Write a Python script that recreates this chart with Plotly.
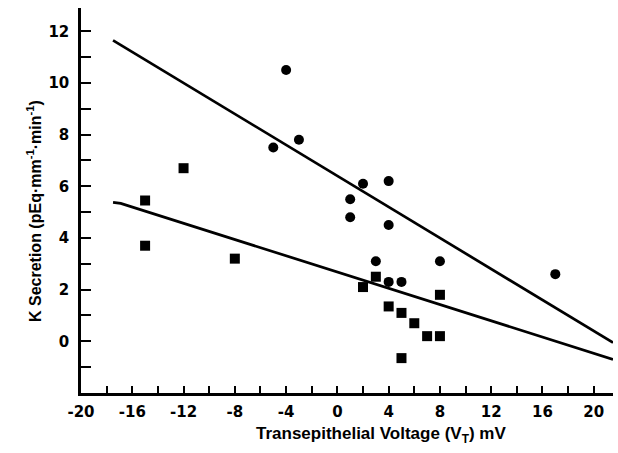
import plotly.graph_objects as go

# Data
circles_x = [-4, -3, -5, 2, 4, 1, 1, 4, 3, 8, 4, 5, 17]
circles_y = [10.5, 7.8, 7.5, 6.1, 6.2, 5.5, 4.8, 4.5, 3.1, 3.1, 2.3, 2.3, 2.6]
squares_x = [-15, -15, -12, -8, 2, 3, 4, 5, 5, 6, 7, 8, 8]
squares_y = [5.45, 3.7, 6.7, 3.2, 2.1, 2.5, 1.35, 1.1, -0.65, 0.7, 0.2, 0.2, 1.8]
upper_x = [-17.5, 21.5]
upper_y = [11.65, -0.05]
lower_x = [-17.5, -16.9, 21.5]
lower_y = [5.38, 5.34, -0.70]
x_ticks = [-20, -16, -12, -8, -4, 0, 4, 8, 12, 16, 20]
y_ticks = [0, 2, 4, 6, 8, 10, 12]

fig = go.Figure()
fig.add_trace(go.Scatter(x=upper_x, y=upper_y, mode="lines",
                         line=dict(color="black", width=2.7), showlegend=False))
fig.add_trace(go.Scatter(x=lower_x, y=lower_y, mode="lines",
                         line=dict(color="black", width=2.7), showlegend=False))
fig.add_trace(go.Scatter(x=circles_x, y=circles_y, mode="markers",
                         marker=dict(symbol="circle", size=10, color="black"),
                         showlegend=False))
fig.add_trace(go.Scatter(x=squares_x, y=squares_y, mode="markers",
                         marker=dict(symbol="square", size=10, color="black"),
                         showlegend=False))

tickfont = dict(family="DejaVu Sans", size=15, color="black", weight="bold")

fig.update_xaxes(range=[-20, 21.5], showline=True, linewidth=2.5, linecolor="black",
                 showgrid=False, zeroline=False, ticks="inside", ticklen=7, tickwidth=2,
                 tickcolor="black", tickvals=x_ticks, ticktext=[str(v) for v in x_ticks],
                 minor=dict(ticks="inside", ticklen=7, tickwidth=2, tickcolor="black",
                            dtick=2, tick0=0, showgrid=False),
                 tickfont=tickfont, ticklabelstandoff=3)
fig.update_yaxes(range=[-2, 12.9], showline=True, linewidth=2.5, linecolor="black",
                 showgrid=False, zeroline=False, ticks="inside", ticklen=10, tickwidth=2,
                 tickcolor="black", tickvals=y_ticks, ticktext=[str(v) for v in y_ticks],
                 minor=dict(ticks="inside", ticklen=10, tickwidth=2, tickcolor="black",
                            dtick=1, tick0=0, showgrid=False),
                 tickfont=tickfont, ticklabelstandoff=6)

fig.add_annotation(text="Transepithelial Voltage (V<sub>T</sub>) mV", xref="paper", yref="paper",
                   x=0.563, y=-0.11, xanchor="center", yanchor="middle", showarrow=False,
                   font=dict(family="Liberation Sans", size=17, color="black", weight="bold"))
fig.add_annotation(text="K Secretion (pEq\u00b7mm<sup>-1</sup>\u00b7min<sup>-1</sup>)",
                   xref="paper", yref="paper", x=-0.087, y=0.472, textangle=-90,
                   xanchor="center", yanchor="middle", showarrow=False,
                   font=dict(family="Liberation Sans", size=16, color="black", weight="bold"))

fig.update_layout(width=618, height=453, margin=dict(l=81, r=5, t=8, b=60),
                  paper_bgcolor="white", plot_bgcolor="white")

fig.write_html("out.html")
